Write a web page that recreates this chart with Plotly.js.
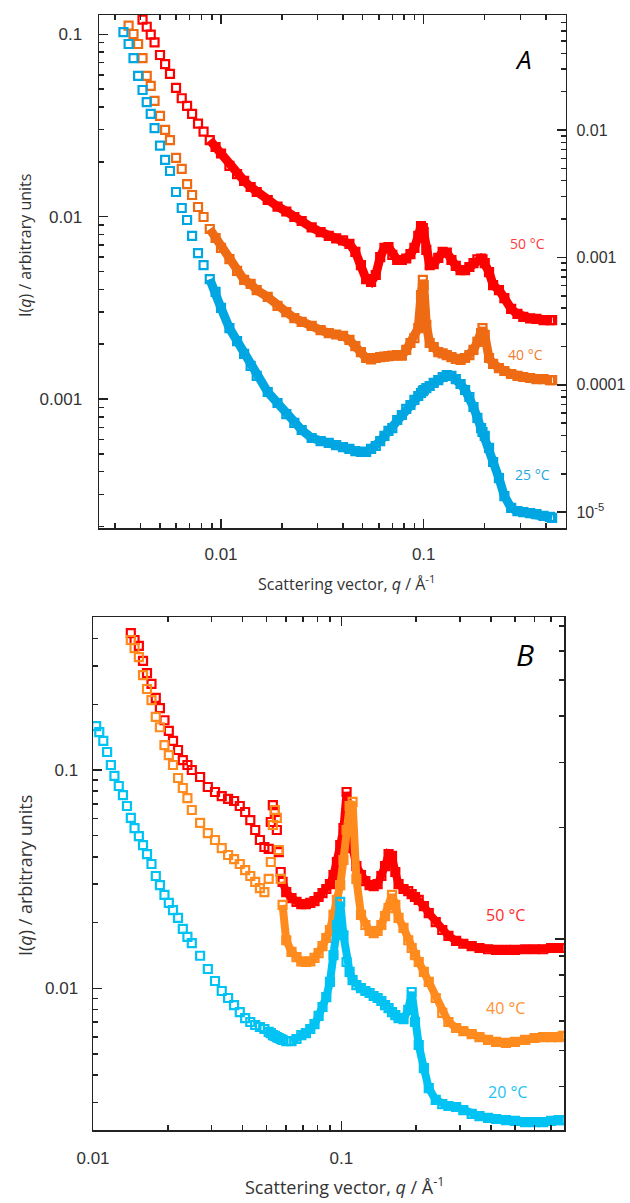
<!DOCTYPE html>
<html>
<head>
<meta charset="utf-8">
<script src="https://cdn.plot.ly/plotly-3.0.1.min.js"></script>
<style>html,body{margin:0;padding:0;background:#fff;}#chart{width:630px;height:1203px;}</style>
</head>
<body>
<div id="chart"></div>
<script>
const qA = [0.0033,0.0035,0.0037,0.0039,0.0041,0.0043,0.0045,0.0047,0.0050,0.0053,0.0056,0.0060,0.0064,0.0068,0.0072,0.0077,0.0082,0.0088,0.0094,0.010,
0.011,0.012,0.013,0.014,0.015,0.017,0.019,0.021,0.023,0.025,0.028,0.031,0.034,0.037,0.040,0.043,0.046,0.049,0.052,0.055,
0.058,0.061,0.064,0.067,0.070,0.074,0.078,0.082,0.086,0.090,0.094,0.097,0.099,0.100,0.103,0.107,0.112,0.118,0.124,0.130,
0.137,0.144,0.152,0.160,0.168,0.176,0.184,0.192,0.195,0.200,0.210,0.220,0.235,0.250,0.270,0.290,0.310,0.335,0.360,0.390,0.420,0.430];

const IA50 = [null,null,null,null,0.1205,0.110,0.0995,0.0902,0.0770,0.0687,0.0606,0.0508,0.0446,0.0405,0.0366,0.0324,0.0293,0.0263,0.0241,0.0222,
0.0190,0.0171,0.0157,0.01455,0.01366,0.01235,0.01137,0.01068,0.00996,0.00947,0.00873,0.00824,0.00784,0.00760,0.00741,0.00709,0.00641,0.00543,0.00455,0.00439,
0.00479,0.00601,0.00674,0.00682,0.00617,0.00579,0.00579,0.00590,0.00624,0.00674,0.00784,0.00889,0.00867,0.00824,0.00657,0.00543,0.00550,0.00594,0.00641,0.00636,
0.00579,0.00537,0.00510,0.00510,0.00530,0.00557,0.00583,0.00590,0.00583,0.00557,0.00497,0.00422,0.00396,0.00358,0.00312,0.00293,0.00282,0.00277,0.00275,0.00271,0.00271,0.00271];

const IA40 = [null,0.1117,0.1004,0.0885,0.0741,0.0591,0.0521,0.0431,0.0357,0.0299,0.0263,0.0210,0.0183,0.0151,0.01315,0.0113,0.00996,0.00856,0.00764,0.00674,
0.00586,0.00504,0.00450,0.00428,0.00396,0.00363,0.00324,0.00300,0.00278,0.00265,0.00252,0.00239,0.00230,0.00226,0.00222,0.00211,0.00195,0.00181,0.00168,0.00165,
0.00168,0.00170,0.00171,0.00172,0.00173,0.00174,0.00173,0.00186,0.00203,0.00216,0.00245,0.00372,0.00450,0.00422,0.00255,0.00203,0.00193,0.00181,0.00178,0.00174,
0.00170,0.00166,0.00164,0.00168,0.00174,0.00186,0.00206,0.00230,0.00245,0.00225,0.00168,0.00156,0.00148,0.001426,0.001373,0.001339,0.001322,0.001305,0.001288,0.001288,0.001272,0.001272];

const IA25 = [0.1029,0.0885,0.0741,0.0591,0.0495,0.0425,0.0366,0.0306,0.0245,0.0205,0.0178,0.01366,0.01116,0.00959,0.00784,0.00632,0.00543,0.00455,0.00387,0.00316,
0.00245,0.00208,0.00177,0.00152,0.001339,0.001094,0.000952,0.000828,0.000740,0.000677,0.000612,0.000589,0.000575,0.000560,0.000546,0.000533,0.000519,0.000513,0.000513,0.000533,
0.000553,0.000589,0.000628,0.000669,0.000694,0.000768,0.000818,0.000883,0.000928,0.000989,0.00104,0.00108,0.001107,0.001122,0.00115,0.00118,0.001226,0.001272,0.001322,0.001355,
0.001339,0.001288,0.00121,0.001122,0.001027,0.000905,0.000788,0.000694,0.00066,0.000628,0.00054,0.000452,0.000369,0.000294,0.000253,0.000243,0.00024,0.000237,0.000234,0.000229,0.000226,0.000223];

// ---------- Panel B data ----------
const qB = [0.0103,0.0106,0.0110,0.0114,0.0118,0.0122,0.0127,0.0132,0.0137,0.0142,0.0147,0.0153,0.0159,0.0165,0.0172,0.0179,0.0186,0.0194,0.0202,0.021,
0.022,0.023,0.024,0.025,0.027,0.029,0.031,0.033,0.035,0.037,0.039,0.041,0.043,0.045,0.047,0.049,0.051,0.052,0.053,0.054,
0.055,0.056,0.057,0.058,0.060,0.063,0.066,0.069,0.072,0.075,0.078,0.081,0.084,0.087,0.090,0.093,0.096,0.099,0.102,0.105,
0.108,0.111,0.115,0.120,0.125,0.130,0.135,0.140,0.145,0.150,0.155,0.160,0.165,0.170,0.178,0.186,0.192,0.198,0.205,0.215,
0.225,0.240,0.255,0.270,0.290,0.310,0.335,0.360,0.390,0.420,0.460,0.500,0.550,0.600,0.650,0.700,0.750,0.780];

const IB50 = [null,null,null,null,null,null,null,null,null,0.424,0.394,0.370,0.316,0.278,0.248,0.214,0.192,0.169,0.151,0.136,
0.1235,0.1111,0.1054,0.100,0.0929,0.0836,0.0793,0.0760,0.0737,0.0721,0.0684,0.0642,0.0590,0.0531,0.0478,0.0444,0.0435,0.0578,0.0691,0.0642,
0.0531,0.0421,0.0341,0.0307,0.0276,0.0259,0.0249,0.0243,0.0243,0.0246,0.0251,0.0262,0.0273,0.0285,0.0300,0.0330,0.0379,0.0453,0.0542,0.0793,
0.0622,0.0439,0.0363,0.0330,0.0310,0.0297,0.0294,0.0300,0.0327,0.0363,0.0412,0.0404,0.0341,0.0300,0.0285,0.0279,0.0270,0.0262,0.0254,0.0238,
0.0221,0.0201,0.0185,0.0174,0.0165,0.0160,0.0156,0.0153,0.0151,0.0150,0.0150,0.0150,0.0151,0.0151,0.0151,0.0153,0.0153,0.0153];

const IB40 = [null,null,null,null,null,null,null,null,null,0.394,0.362,0.329,0.272,0.235,0.209,0.175,0.157,0.130,0.117,0.1054,
0.0919,0.0827,0.0744,0.0656,0.0572,0.0514,0.0478,0.0439,0.0408,0.0391,0.0371,0.0348,0.0327,0.0307,0.0288,0.0276,0.0317,0.0379,0.0560,0.0656,
0.0603,0.0430,0.0317,0.0241,0.0166,0.0147,0.0139,0.0133,0.0132,0.0133,0.0138,0.0145,0.0156,0.0170,0.0185,0.0217,0.0254,0.0297,0.0387,0.0531,
0.0684,0.0714,0.0317,0.0217,0.0195,0.0183,0.0179,0.0183,0.0195,0.0214,0.0233,0.0268,0.0241,0.0210,0.0189,0.0166,0.0153,0.0142,0.0132,0.0119,
0.0107,0.00903,0.00771,0.00701,0.00658,0.00637,0.00617,0.00598,0.00580,0.00568,0.00562,0.00568,0.00580,0.00592,0.00598,0.00598,0.00598,0.00605];

const IB20 = [0.159,0.149,0.136,0.1209,0.1054,0.0939,0.0845,0.0768,0.0684,0.0603,0.0542,0.0498,0.0453,0.0412,0.0371,0.0327,0.0297,0.0268,0.0246,0.0228,
0.0210,0.0187,0.0172,0.0161,0.0141,0.01226,0.0108,0.00972,0.00903,0.00838,0.00778,0.00731,0.00701,0.00679,0.00665,0.00651,0.00631,0.00624,0.00611,0.00605,
0.00598,0.00592,0.00586,0.00580,0.00573,0.00573,0.00586,0.00611,0.00624,0.00651,0.00686,0.00747,0.00821,0.00912,0.0107,0.0142,0.0195,0.0249,0.0175,0.0132,
0.0119,0.0109,0.01035,0.01003,0.00972,0.00952,0.00922,0.00903,0.00875,0.00838,0.00812,0.00778,0.00754,0.00731,0.00723,0.00796,0.00962,0.00701,0.00550,0.00431,
0.00349,0.00308,0.00295,0.00289,0.00286,0.00277,0.00266,0.00260,0.00255,0.00252,0.00249,0.00247,0.00244,0.00244,0.00244,0.00247,0.00249,0.00249];

// tick labels
const tickA_x = [0.01, 0.1], tickA_xText = ['0.01', '0.1'];
const tickA_y = [0.1, 0.01, 0.001], tickA_yText = ['0.1', '0.01', '0.001'];
const tickA_y2 = [0.01, 0.001, 0.0001, 0.00001], tickA_y2Text = ['0.01', '0.001', '0.0001', '10<sup>-5</sup>'];
const tickB_x = [0.01, 0.1], tickB_xText = ['0.01', '0.1'];
const tickB_y = [0.1, 0.01], tickB_yText = ['0.1', '0.01'];
const labelsA = ['50 °C', '40 °C', '25 °C'];
const labelsB = ['50 °C', '40 °C', '20 °C'];

// ---------- styling ----------
const colA = ['#ff0000', '#ee6b14', '#00a6e2'];
const colB = ['#ff0000', '#ff8b1e', '#00c3f4'];

function minorVals(e0, e1) {
  const out = [];
  for (let e = e0; e <= e1; e++) for (let d = 2; d <= 9; d++) out.push(+(d * Math.pow(10, e)).toPrecision(3));
  return out;
}

function seriesTraces(q, I, color, thr, xa, ya, lw) {
  const sq = [], sI = [], dq = [], dI = [];
  for (let i = 0; i < q.length; i++) {
    if (I[i] === null) continue;
    if (q[i] < thr) { sq.push(q[i]); sI.push(I[i]); }
    else { dq.push(q[i]); dI.push(I[i]); }
  }
  const mk = {symbol: 'square-open', size: 8, color: color, line: {width: 2.2, color: color}};
  return [
    {x: sq, y: sI, xaxis: xa, yaxis: ya, mode: 'markers', marker: mk, hoverinfo: 'skip', showlegend: false},
    {x: dq, y: dI, xaxis: xa, yaxis: ya, mode: 'lines+markers', marker: mk, line: {color: color, width: lw}, hoverinfo: 'skip', showlegend: false}
  ];
}

const traces = [].concat(
  seriesTraces(qA, IA50, colA[0], 0.0088, 'x', 'y', 9),
  seriesTraces(qA, IA40, colA[1], 0.0088, 'x', 'y', 9),
  seriesTraces(qA, IA25, colA[2], 0.0088, 'x', 'y', 9),
  seriesTraces(qB, IB50, colB[0], 0.058, 'x2', 'y2', 8),
  seriesTraces(qB, IB40, colB[1], 0.058, 'x2', 'y2', 8),
  seriesTraces(qB, IB20, colB[2], 0.063, 'x2', 'y2', 8),
  [{x: [], y: [], xaxis: 'x', yaxis: 'y3', mode: 'markers', hoverinfo: 'skip', showlegend: false},
   {x: [], y: [], xaxis: 'x2', yaxis: 'y4', mode: 'markers', hoverinfo: 'skip', showlegend: false}]
);

const tickFont = {family: 'Liberation Sans, Arial, sans-serif', size: 17, color: '#333'};
function axBase(extra) {
  return Object.assign({
    type: 'log', showgrid: false, zeroline: false, showline: true, linecolor: '#222', linewidth: 1.5,
    ticks: 'inside', ticklen: 9, tickwidth: 1.5, tickcolor: '#222', tickfont: tickFont,
    tickmode: 'array', fixedrange: true
  }, extra);
}
const minorStyle = (vals) => ({tickmode: 'array', tickvals: vals, ticks: 'inside', ticklen: 5, tickwidth: 1.5, tickcolor: '#222', showgrid: false});

const W = 630, H = 1203;
const px = v => v / W, py = v => 1 - v / H;

const layout = {
  width: W, height: H, margin: {l: 0, r: 0, t: 0, b: 0},
  paper_bgcolor: '#fff', plot_bgcolor: 'rgba(0,0,0,0)', showlegend: false,
  xaxis: axBase({domain: [px(99), px(565.7)], anchor: 'y', range: [-2.602, -0.2995],
    tickvals: tickA_x, ticktext: tickA_xText, mirror: 'ticks', ticklabelstandoff: 10,
    minor: minorStyle(minorVals(-3, -1))}),
  yaxis: axBase({domain: [py(528), py(15)], anchor: 'x', range: [-3.7067, -0.8942],
    tickvals: tickA_y, ticktext: tickA_yText, ticklabelstandoff: 12,
    minor: minorStyle(minorVals(-4, -1))}),
  yaxis3: axBase({overlaying: 'y', side: 'right', anchor: 'x', range: [-5.124, -1.0973],
    tickvals: tickA_y2, ticktext: tickA_y2Text, ticklabelstandoff: 6, tickfont: Object.assign({}, tickFont, {size: 16}),
    minor: minorStyle(minorVals(-5, -2))}),
  xaxis2: axBase({domain: [px(93), px(564.3)], anchor: 'y2', range: [-2, -0.102],
    tickvals: tickB_x, ticktext: tickB_xText, mirror: 'ticks', ticklabelstandoff: 12,
    minor: minorStyle(minorVals(-2, -1))}),
  yaxis2: axBase({domain: [py(1130), py(617.3)], anchor: 'x2', range: [-2.649, -0.3005],
    tickvals: tickB_y, ticktext: tickB_yText, ticklabelstandoff: 10,
    minor: minorStyle(minorVals(-3, -1))}),
  yaxis4: axBase({overlaying: 'y2', side: 'right', anchor: 'x2', range: [-0.516, 0.869],
    tickvals: [1], ticktext: [''], showticklabels: false,
    minor: minorStyle(minorVals(-1, 0))}),
  annotations: [
    {text: 'I(<i>q</i>) / arbitrary units', x: px(25), y: py(246), textangle: -90, font: {family: 'Open Sans', size: 16, color: '#333'}},
    {text: 'Scattering vector, <i>q</i> / Å<sup>-1</sup>', x: px(346), y: py(583), font: {family: 'Open Sans', size: 16, color: '#333'}},
    {text: 'I(<i>q</i>) / arbitrary units', x: px(25), y: py(876), textangle: -90, font: {family: 'Open Sans', size: 18, color: '#333'}},
    {text: 'Scattering vector, <i>q</i> / Å<sup>-1</sup>', x: px(345), y: py(1186), font: {family: 'Open Sans', size: 18, color: '#333'}},
    {text: '<i>A</i>', x: px(523), y: py(59), font: {family: 'Open Sans', size: 26, color: '#000'}},
    {text: '<i>B</i>', x: px(525), y: py(654), font: {family: 'Open Sans', size: 30, color: '#000'}},
    {text: labelsA[0], x: px(527), y: py(244), font: {family: 'Open Sans', size: 14, color: '#ff3a3a'}},
    {text: labelsA[1], x: px(525), y: py(354), font: {family: 'Open Sans', size: 14, color: '#f07c2c'}},
    {text: labelsA[2], x: px(532), y: py(474), font: {family: 'Open Sans', size: 14, color: '#1ea5e0'}},
    {text: labelsB[0], x: px(505), y: py(915), font: {family: 'Open Sans', size: 16, color: '#ff2a2a'}},
    {text: labelsB[1], x: px(505), y: py(1008), font: {family: 'Open Sans', size: 16, color: '#ff9232'}},
    {text: labelsB[2], x: px(507), y: py(1092), font: {family: 'Open Sans', size: 16, color: '#22c2f2'}}
  ].map(a => Object.assign({xref: 'paper', yref: 'paper', showarrow: false, xanchor: 'center', yanchor: 'middle'}, a))
};

Plotly.newPlot('chart', traces, layout, {staticPlot: true, displayModeBar: false});
</script>
</body>
</html>
